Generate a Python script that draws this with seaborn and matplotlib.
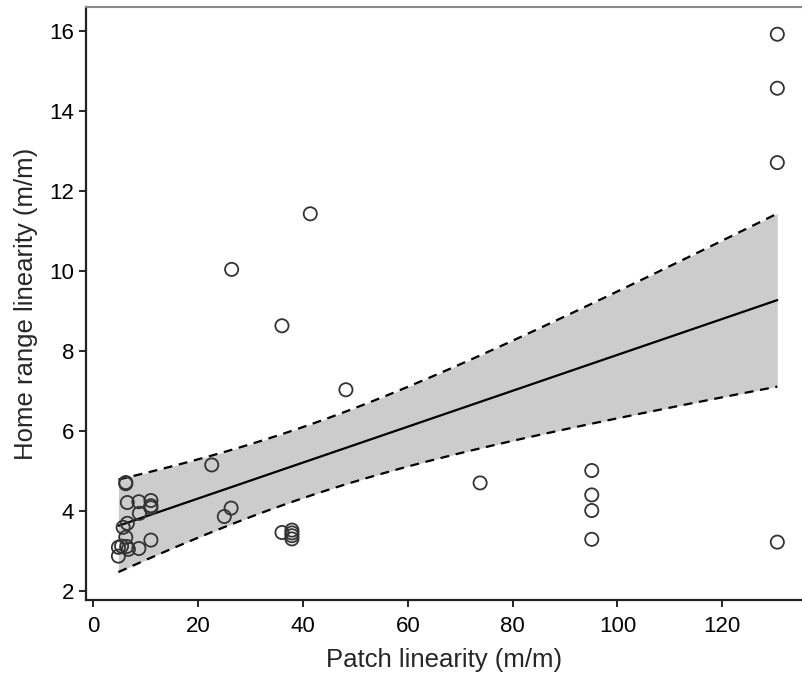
import numpy as np
import pandas as pd
import seaborn as sns
import matplotlib.pyplot as plt

# values
patch = [130.5, 130.5, 130.5, 130.5,
         95.1, 95.1, 95.1, 95.1,
         73.8, 48.2, 41.4, 36.0, 36.0,
         37.9, 37.9, 37.9, 37.9,
         26.4, 26.3, 25.0, 22.6,
         6.2, 6.2, 6.5, 6.5, 8.7, 8.7,
         11.0, 11.0, 11.0, 11.0,
         8.8, 5.7, 6.2, 5.4, 6.4, 4.8, 4.8, 6.7]
home = [15.92, 14.57, 12.71, 3.22,
        5.01, 4.40, 4.01, 3.29,
        4.70, 7.03, 11.43, 8.63, 3.46,
        3.52, 3.45, 3.38, 3.30,
        10.04, 4.07, 3.86, 5.15,
        4.71, 4.68, 4.21, 3.69, 4.23, 3.06,
        4.26, 4.13, 4.08, 3.27,
        3.94, 3.59, 3.34, 3.12, 3.11, 3.09, 2.87, 3.04]

x_ticks = [0, 20, 40, 60, 80, 100, 120]
y_ticks = [2, 4, 6, 8, 10, 12, 14, 16]

df = pd.DataFrame({"patch": patch, "home": home})

sns.set_style("ticks")
plt.rcParams["font.family"] = ["Liberation Sans", "DejaVu Sans"]

fig = plt.figure(figsize=(8.03, 6.77), dpi=100)
ax = fig.add_axes([0.107, 0.113, 0.893, 0.876])

# linear fit with 95% confidence band
x = df["patch"].to_numpy()
y = df["home"].to_numpy()
n = len(x)
slope, intercept = np.polyfit(x, y, 1)
resid = y - (intercept + slope * x)
s = np.sqrt((resid ** 2).sum() / (n - 2))
sxx = ((x - x.mean()) ** 2).sum()
xs = np.linspace(x.min(), x.max(), 200)
fit = intercept + slope * xs
half = 2.02 * s * np.sqrt(1 / n + (xs - x.mean()) ** 2 / sxx)

ax.fill_between(xs, fit - half, fit + half, color="#cccccc", lw=0, zorder=1)
ax.plot(xs, fit + half, color="black", ls=(0, (4, 3)), lw=1.6, zorder=2)
ax.plot(xs, fit - half, color="black", ls=(0, (4, 3)), lw=1.6, zorder=2)
sns.lineplot(x=xs, y=fit, color="black", lw=1.6, ax=ax, zorder=3)

sns.scatterplot(data=df, x="patch", y="home", ax=ax, s=90,
                facecolor="none", edgecolor="#333333", linewidth=1.3, zorder=4)

ax.set_xlim(-1.4, 135.4)
ax.set_ylim(1.76, 16.59)
ax.set_xticks(x_ticks)
ax.set_yticks(y_ticks)
ax.tick_params(labelsize=16, length=5, width=1.2, colors="black")
ax.tick_params(axis="x", pad=6)
ax.set_xlabel("Patch linearity (m/m)", fontsize=18.5, labelpad=8)
ax.set_ylabel("Home range linearity (m/m)", fontsize=18.5, labelpad=8)

for side in ["left", "bottom"]:
    ax.spines[side].set_linewidth(1.6)
    ax.spines[side].set_color("#222222")
ax.spines["right"].set_visible(False)
ax.spines["top"].set_color("#888888")
ax.spines["top"].set_linewidth(1.5)

fig.savefig("out.png", dpi=100)
